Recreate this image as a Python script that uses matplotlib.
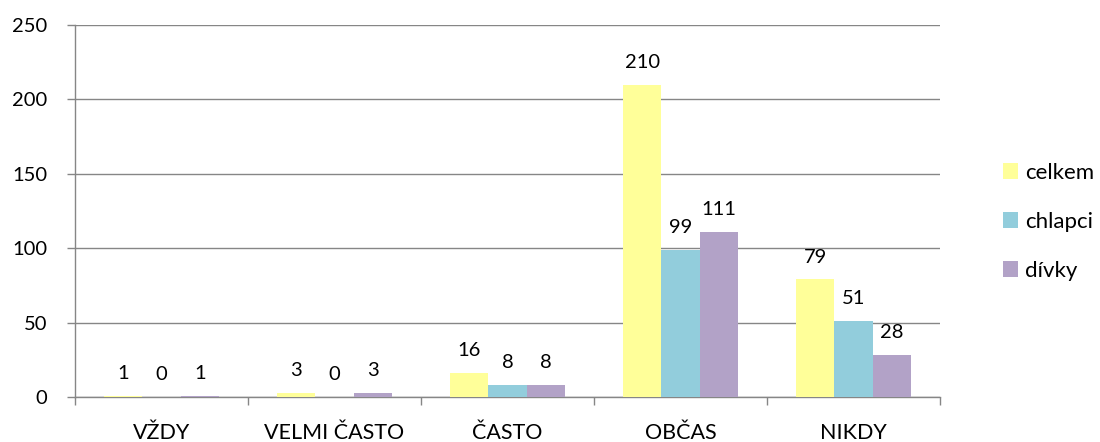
import matplotlib
matplotlib.use("Agg")
import matplotlib.pyplot as plt
import numpy as np

categories = ["VŽDY", "VELMI ČASTO", "ČASTO", "OBČAS", "NIKDY"]
series_names = ["celkem", "chlapci", "dívky"]
celkem = [1, 3, 16, 210, 79]
chlapci = [0, 0, 8, 99, 51]
divky = [1, 3, 8, 111, 28]
y_ticks = [0, 50, 100, 150, 200, 250]

colors = ["#FFFF99", "#92CDDC", "#B2A2C7"]
grid_color = "#868686"
fs = 14.5

plt.rcParams["font.family"] = ["Lato", "DejaVu Sans"]

fig = plt.figure(figsize=(11, 4.42), dpi=100)
ax = fig.add_axes([75 / 1100, 1 - 397 / 442, 865 / 1100, 372 / 442])

x = np.arange(len(categories))
bw = 0.222
values = [celkem, chlapci, divky]
handles = []
for i, (vals, name, col) in enumerate(zip(values, series_names, colors)):
    pos = x + (i - 1) * bw
    bars = ax.bar(pos, vals, width=bw, color=col, label=name, zorder=3)
    handles.append(bars)
    for p, v in zip(pos, vals):
        ax.annotate(str(v), (p, v), xytext=(0, 10), textcoords="offset points",
                    ha="center", va="bottom", fontsize=fs, color="black",
                    zorder=4)

ax.set_xlim(-0.5, len(categories) - 0.5)
ax.set_ylim(0, 250)
ax.set_yticks(y_ticks)
ax.set_yticklabels([str(t) for t in y_ticks], fontsize=fs)
ax.yaxis.grid(True, color=grid_color, linewidth=1.0, zorder=0)
ax.set_axisbelow(True)

ax.set_xticks(x)
ax.set_xticklabels(categories, fontsize=15.5)
ax.tick_params(axis="x", which="major", length=0, pad=19)
ax.set_xticks(np.arange(-0.5, len(categories)), minor=True)
ax.tick_params(axis="x", which="minor", length=6, color=grid_color, width=1)
ax.tick_params(axis="y", length=6, color=grid_color, width=1, pad=14)

for s in ["top", "right"]:
    ax.spines[s].set_visible(False)
for s in ["left", "bottom"]:
    ax.spines[s].set_color(grid_color)
    ax.spines[s].set_linewidth(1.0)

leg = fig.legend(handles=handles, labels=series_names, loc="upper left",
                 bbox_to_anchor=(994 / 1100, 1 - 154 / 442), frameon=False,
                 fontsize=16, handlelength=0.7, handleheight=0.7,
                 handletextpad=0.3, labelspacing=1.3, borderaxespad=0)

fig.savefig("out.png", dpi=100)
